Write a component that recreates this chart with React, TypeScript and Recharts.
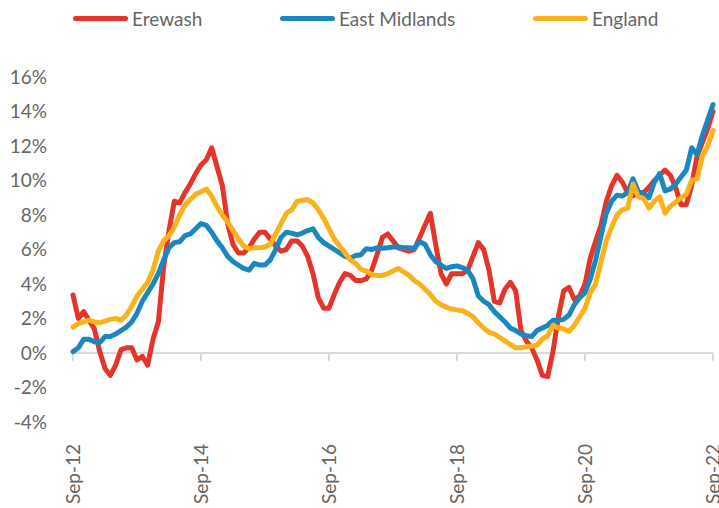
import {
  LineChart,
  Line,
  XAxis,
  YAxis,
  ReferenceLine,
  Legend
} from "recharts"

const monthNames = ["Jan","Feb","Mar","Apr","May","Jun","Jul","Aug","Sep","Oct","Nov","Dec"]

// Sep-12 .. Sep-22, monthly
const months = Array.from({ length: 121 }, (_, i) =>
  `${monthNames[(8 + i) % 12]}-${12 + Math.floor((8 + i) / 12)}`
)

const xTicks = ["Sep-12","Sep-14","Sep-16","Sep-18","Sep-20","Sep-22"]
const yTicks = [-4,-2,0,2,4,6,8,10,12,14,16]

const erewash = [
  3.36,2.0,2.4,1.9,1.4,0.1,-0.9,-1.3,-0.7,0.2,0.3,0.3,
  -0.4,-0.2,-0.7,0.8,1.8,5.0,7.1,8.8,8.7,9.3,9.8,10.4,
  10.9,11.2,11.9,10.8,9.7,7.5,6.3,5.8,5.8,6.1,6.6,7.0,
  7.0,6.6,6.2,5.9,6.0,6.5,6.5,6.2,5.6,4.6,3.2,2.6,
  2.6,3.4,4.1,4.6,4.5,4.2,4.2,4.3,4.8,5.7,6.7,6.9,
  6.5,6.1,6.0,5.9,6.0,6.7,7.4,8.1,6.3,4.6,4.0,4.6,
  4.6,4.6,4.8,5.6,6.4,6.0,4.8,3.0,2.9,3.7,4.1,3.6,
  1.3,0.7,0.3,-0.4,-1.3,-1.37,0.1,2.1,3.6,3.8,3.1,3.3,
  4.0,5.5,6.5,7.4,8.8,9.7,10.3,9.9,9.3,9.1,9.3,9.3,
  9.6,10.0,10.3,10.6,10.3,9.6,8.6,8.6,9.7,11.4,12.2,13.0,
  14.0
]

const eastMidlands = [
  0.08,0.3,0.8,0.8,0.65,0.6,0.95,0.95,1.1,1.3,1.5,1.8,
  2.3,3.0,3.5,4.0,4.6,5.4,6.1,6.4,6.45,6.8,6.9,7.2,
  7.5,7.4,7.0,6.5,6.1,5.6,5.3,5.1,4.9,4.8,5.2,5.1,
  5.1,5.4,6.0,6.7,7.0,6.95,6.85,6.95,7.1,7.2,6.7,6.4,
  6.2,6.0,5.8,5.6,5.5,5.65,5.7,6.05,6.0,6.1,6.07,6.1,
  6.15,6.15,6.1,6.1,6.07,6.45,6.3,5.7,5.3,5.1,4.9,5.0,
  5.05,4.95,4.8,4.3,3.3,3.0,2.8,2.4,2.1,1.8,1.45,1.3,
  1.1,1.0,0.95,1.3,1.45,1.6,1.9,1.9,1.95,2.2,2.8,3.2,
  3.5,4.3,5.4,6.8,8.1,8.8,9.15,9.1,9.3,10.1,9.35,9.25,
  9.0,9.9,10.4,9.4,9.5,9.8,10.2,10.6,11.9,11.5,12.6,13.5,
  14.4
]

const england = [
  1.5,1.7,1.8,1.9,1.8,1.75,1.85,1.95,2.0,1.9,2.2,2.7,
  3.3,3.7,4.1,4.8,5.9,6.5,6.8,7.3,8.0,8.6,8.9,9.2,
  9.35,9.5,9.1,8.5,8.0,7.6,7.1,6.6,6.2,6.05,6.1,6.1,
  6.15,6.3,6.9,7.5,8.1,8.3,8.8,8.85,8.9,8.7,8.3,7.8,
  7.2,6.6,6.2,5.8,5.4,5.2,4.85,4.75,4.55,4.5,4.5,4.6,
  4.75,4.9,4.7,4.5,4.2,4.0,3.7,3.4,3.0,2.8,2.65,2.55,
  2.5,2.45,2.3,2.1,1.75,1.45,1.2,1.1,0.9,0.7,0.5,0.3,
  0.3,0.37,0.4,0.45,0.8,1.0,1.6,1.45,1.4,1.25,1.6,2.1,
  2.6,3.5,4.0,5.3,6.5,7.3,8.0,8.3,8.4,9.8,9.05,8.95,
  8.4,8.8,9.05,8.1,8.5,8.75,9.0,9.2,10.0,10.1,11.4,12.0,
  12.9
]

const series = [
  { key: "erewash", name: "Erewash", color: "#E5352A" },
  { key: "eastMidlands", name: "East Midlands", color: "#1B87C0" },
  { key: "england", name: "England", color: "#FBB21A" }
]

const data = months.map((m, i) => ({
  month: m,
  erewash: erewash[i],
  eastMidlands: eastMidlands[i],
  england: england[i]
}))

const font = "Lato, 'Open Sans', sans-serif"
const textColor = "#666666"

function XTick({ x, y, payload }: any) {
  return (
    <text
      x={x}
      y={y}
      transform={`rotate(-90, ${x}, ${y})`}
      dx={-14}
      dy={7}
      textAnchor="end"
      fill={textColor}
      fontSize={19}
      fontFamily={font}
    >
      {payload.value}
    </text>
  )
}

function LegendRow() {
  const pos = [73, 280, 533]
  return (
    <div style={{ position: "relative", height: 30 }}>
      {series.map((s, i) => (
        <div
          key={s.key}
          style={{ position: "absolute", left: pos[i], top: 0, display: "flex", alignItems: "center" }}
        >
          <div style={{ width: 55, height: 5, borderRadius: 3, background: s.color }} />
          <span style={{ marginLeft: 4, fontFamily: font, fontSize: 19, color: textColor }}>
            {s.name}
          </span>
        </div>
      ))}
    </div>
  )
}

export default function App() {
  return (
    <div style={{ position: "absolute", left: 0, top: 0, width: 719, height: 508, background: "#fff" }}>
      <LineChart
        width={719}
        height={508}
        data={data}
        margin={{ top: 47, right: 6, bottom: 0, left: 23 }}
      >
        <Legend
          verticalAlign="top"
          align="left"
          content={() => <LegendRow />}
          wrapperStyle={{ position: "absolute", top: 7, left: 0, width: 719 }}
        />
        <XAxis
          dataKey="month"
          ticks={xTicks}
          interval={0}
          axisLine={false}
          tickLine={false}
          height={86}
          tick={<XTick />}
          padding={{ left: 0, right: 0 }}
        />
        <YAxis
          domain={[-4, 16]}
          ticks={yTicks}
          width={50}
          axisLine={false}
          tickLine={false}
          tickMargin={20}
          tickFormatter={(v: number) => `${v}%`}
          tick={{ fill: textColor, fontSize: 19, fontFamily: font }}
        />
        <ReferenceLine y={0} stroke="#d9d9d9" strokeWidth={2} />
        {xTicks.map((t) => (
          <ReferenceLine
            key={t}
            segment={[{ x: t, y: 0 }, { x: t, y: -0.45 }]}
            stroke="#d9d9d9"
            strokeWidth={2}
          />
        ))}
        {series.map((s) => (
          <Line
            key={s.key}
            type="linear"
            dataKey={s.key}
            name={s.name}
            stroke={s.color}
            strokeWidth={5}
            dot={false}
            strokeLinejoin="round"
            strokeLinecap="round"
            isAnimationActive={false}
          />
        ))}
      </LineChart>
    </div>
  )
}
